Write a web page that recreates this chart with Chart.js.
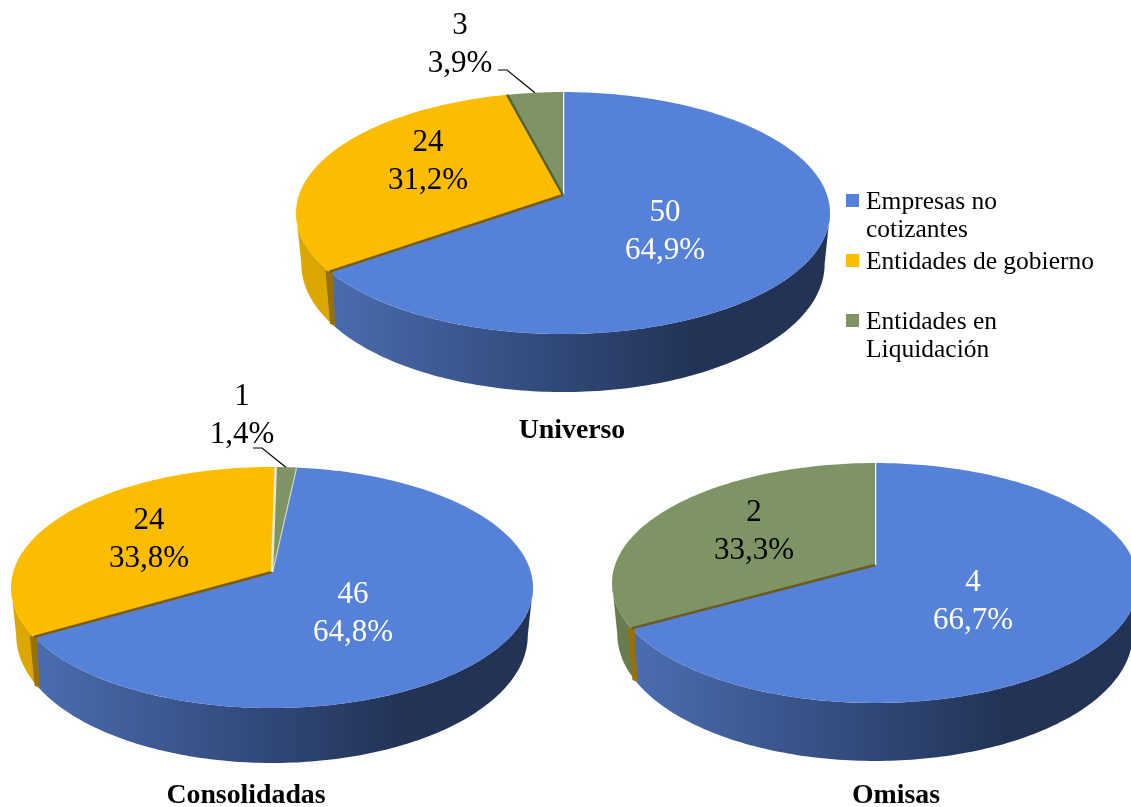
<!DOCTYPE html>
<html>
<head>
<meta charset="utf-8">
<script src="https://cdn.jsdelivr.net/npm/chart.js@4"></script>
<style>
    html, body { margin: 0; padding: 0; background: #fff; overflow: hidden; }
    #page { position: relative; width: 1131px; height: 807px; overflow: hidden; }
    canvas { position: absolute; left: 0; top: 0; }
</style>
</head>
<body>
<div id="page">
    <canvas id="universo" width="1131" height="807"></canvas>
    <canvas id="consolidadas" width="1131" height="807"></canvas>
    <canvas id="omisas" width="1131" height="807"></canvas>
</div>
<script>
const categorias = ['Empresas no cotizantes', 'Entidades de gobierno', 'Entidades en Liquidación'];
const categoriasOmisas = ['Empresas no cotizantes', 'Entidades en Liquidación'];
const leyendaLineas = [['Empresas no', 'cotizantes'], ['Entidades de gobierno'], ['Entidades en', 'Liquidación']];

const valoresUniverso = [50, 24, 3];
const valoresConsolidadas = [46, 24, 1];
const valoresOmisas = [4, 2];

const AZUL = '#5681d8', AMARILLO = '#fcbd00', VERDE = '#7f9464';
const AZUL_LADO = '#4a6cb0', AZUL_OSCURO = '#223356';
const AMARILLO_LADO = '#dca700', VERDE_LADO = '#687c50';
const CORTE = '#96700c';
const FUENTE = '"Liberation Serif", "Times New Roman", serif';

// elemento de arco con perspectiva (el pie 3D que Chart.js no trae)
class Arc3D extends Chart.ArcElement {
    static id = 'arc3d';
    static defaults = {
        ...Chart.ArcElement.defaults,
        tilt: 0.45, persp: 0.15, dropY: 50, stretchY: 1.058, shrinkX: 0.98,
        sideColor: '#000', sideDark: '#000', startEdge: 'transparent', cutColor: 'transparent'
    };

    top(t) {
        const o = this.options, u = Math.cos(t), v = Math.sin(t), w = 1 - o.persp * v;
        return { x: this.outerRadius * u / w, y: this.outerRadius * o.tilt * v / w };
    }

    bottom(t) {
        const o = this.options, p = this.top(t);
        return { x: p.x * o.shrinkX, y: p.y * o.stretchY + o.dropY };
    }

    draw(ctx) {
        const o = this.options;
        const a0 = this.startAngle, a1 = this.endAngle;
        const limite = Math.asin(o.persp);
        const desde = Math.max(a0, limite), hasta = Math.min(a1, Math.PI - limite);
        const paso = Math.PI / 180;

        ctx.save();
        ctx.translate(this.x, this.y);

        // pared lateral
        if (hasta > desde) {
            const grad = ctx.createLinearGradient(-235, 0, 130, 0);
            grad.addColorStop(0, o.sideColor);
            grad.addColorStop(1, o.sideDark);
            ctx.fillStyle = grad;
            ctx.beginPath();
            for (let t = desde; t < hasta; t += paso) {
                const p = this.top(t);
                ctx.lineTo(p.x, p.y);
            }
            let p = this.top(hasta);
            ctx.lineTo(p.x, p.y);
            for (let t = hasta; t > desde; t -= paso) {
                p = this.bottom(t);
                ctx.lineTo(p.x, p.y);
            }
            p = this.bottom(desde);
            ctx.lineTo(p.x, p.y);
            ctx.closePath();
            ctx.fill();
        }

        // cara de corte que asoma al lado de la porcion
        const pc = this.top(a0), qc = this.bottom(a0);
        if (o.cutColor !== 'transparent') {
            ctx.fillStyle = o.cutColor;
            ctx.beginPath();
            ctx.moveTo(pc.x + 3, pc.y);
            ctx.lineTo(qc.x + 1, qc.y);
            ctx.lineTo(qc.x - 4, qc.y - 2);
            ctx.lineTo(pc.x - 4, pc.y - 1);
            ctx.closePath();
            ctx.fill();
        }

        // cara superior
        ctx.fillStyle = o.backgroundColor;
        ctx.beginPath();
        ctx.moveTo(0, 0);
        for (let t = a0; t < a1; t += paso) {
            const p = this.top(t);
            ctx.lineTo(p.x, p.y);
        }
        const fin = this.top(a1);
        ctx.lineTo(fin.x, fin.y);
        ctx.closePath();
        ctx.fill();

        // filete entre porciones
        if (o.startEdge !== 'transparent') {
            ctx.strokeStyle = o.startEdge;
            ctx.lineWidth = 2.5;
            ctx.beginPath();
            ctx.moveTo(0, 0);
            ctx.lineTo(pc.x, pc.y);
            ctx.stroke();
        }
        ctx.restore();
    }
}

class Pie3D extends Chart.PieController {
    static id = 'pie3d';
    static defaults = { dataElementType: 'arc3d' };
}

Chart.register(Arc3D, Pie3D);

function formatoPct(v, total) {
    return (v / total * 100).toFixed(1).replace('.', ',') + '%';
}

function dibujaLineas(ctx, lineas, x, y, alto) {
    const y0 = y - (lineas.length - 1) * alto / 2;
    lineas.forEach((l, i) => ctx.fillText(l, x, y0 + i * alto));
}

// etiquetas de datos, lineas guia, titulo y leyenda
const textosPlugin = {
    id: 'textos',
    afterDatasetsDraw(chart, args, opts) {
        const ctx = chart.ctx;
        const meta = chart.getDatasetMeta(0);
        const valores = chart.data.datasets[0].data;
        const total = valores.reduce((a, b) => a + b, 0);
        ctx.save();
        ctx.textAlign = 'center';
        ctx.textBaseline = 'middle';

        meta.data.forEach((arc, i) => {
            const pos = opts.etiquetas[i];
            const x = arc.x + pos.dx, y = arc.y + pos.dy;
            if (pos.guia) {
                const medio = arc.top((arc.startAngle + arc.endAngle) / 2);
                ctx.strokeStyle = '#000';
                ctx.lineWidth = 1.2;
                ctx.beginPath();
                ctx.moveTo(arc.x + pos.guia[0], arc.y + pos.guia[1]);
                ctx.lineTo(arc.x + pos.guia[0] + 9, arc.y + pos.guia[1]);
                ctx.lineTo(arc.x + medio.x, arc.y + medio.y);
                ctx.stroke();
            }
            ctx.fillStyle = pos.color;
            ctx.font = '31px ' + FUENTE;
            dibujaLineas(ctx, [String(valores[i]), formatoPct(valores[i], total)], x, y, 37.5);
        });

        ctx.fillStyle = '#000';
        ctx.font = 'bold 27.8px ' + FUENTE;
        ctx.fillText(opts.titulo, opts.tituloX, opts.tituloY);

        if (opts.leyenda) {
            ctx.textAlign = 'left';
            ctx.font = '25.5px ' + FUENTE;
            const colores = chart.data.datasets[0].backgroundColor;
            leyendaLineas.forEach((lineas, i) => {
                const y0 = opts.leyenda.y[i];
                ctx.fillStyle = colores[i];
                ctx.fillRect(opts.leyenda.x, y0 - 7, 13, 13);
                ctx.fillStyle = '#000';
                lineas.forEach((l, j) => ctx.fillText(l, opts.leyenda.x + 20, y0 + 1 + j * 28));
            });
        }
        ctx.restore();
    }
};

function crearPie(id, cx, cy, cfg) {
    const W = 1131, H = 807;
    return new Chart(document.getElementById(id), {
        type: 'pie3d',
        data: {
            labels: cfg.labels,
            datasets: [{
                data: cfg.data,
                backgroundColor: cfg.colores,
                sideColor: cfg.lados,
                sideDark: cfg.oscuros,
                startEdge: cfg.filetes,
                cutColor: cfg.cortes,
                borderWidth: 0,
                radius: cfg.radio,
                rotation: cfg.rotacion,
                tilt: cfg.tilt,
                persp: cfg.persp,
                dropY: cfg.dropY,
                clip: false
            }]
        },
        options: {
            responsive: false,
            animation: false,
            events: [],
            layout: {
                padding: {
                    left: Math.max(0, 2 * cx - W),
                    right: Math.max(0, W - 2 * cx),
                    top: Math.max(0, 2 * cy - H),
                    bottom: Math.max(0, H - 2 * cy)
                }
            },
            plugins: {
                legend: { display: false },
                tooltip: { enabled: false },
                textos: cfg.textos
            }
        },
        plugins: [textosPlugin]
    });
}

crearPie('universo', 563, 195, {
    labels: categorias,
    data: valoresUniverso,
    colores: [AZUL, AMARILLO, VERDE],
    lados: [AZUL_LADO, AMARILLO_LADO, VERDE_LADO],
    oscuros: [AZUL_OSCURO, AMARILLO_LADO, VERDE_LADO],
    filetes: ['#ffffff', '#7a5c10', '#55603c'],
    cortes: ['transparent', CORTE, 'transparent'],
    radio: 264, rotacion: 0, tilt: 0.448, persp: 0.149, dropY: 50,
    textos: {
        etiquetas: [
            { dx: 102, dy: 37, color: '#fff' },
            { dx: -135, dy: -33, color: '#000' },
            { dx: -103, dy: -150, color: '#000', guia: [-65, -125] }
        ],
        titulo: 'Universo', tituloX: 572, tituloY: 431,
        leyenda: { x: 846, y: [201, 261, 321] }
    }
});

crearPie('consolidadas', 272, 572, {
    labels: categorias,
    data: valoresConsolidadas,
    colores: [AZUL, AMARILLO, VERDE],
    lados: [AZUL_LADO, AMARILLO_LADO, VERDE_LADO],
    oscuros: [AZUL_OSCURO, AMARILLO_LADO, VERDE_LADO],
    filetes: ['#cfd6c4', '#7a5c10', '#e8e8d8'],
    cortes: ['transparent', CORTE, 'transparent'],
    radio: 258.8, rotacion: 6, tilt: 0.458, persp: 0.129, dropY: 47,
    textos: {
        etiquetas: [
            { dx: 81, dy: 42, color: '#fff' },
            { dx: -123, dy: -32, color: '#000' },
            { dx: -30, dy: -156, color: '#000', guia: [-19, -124] }
        ],
        titulo: 'Consolidadas', tituloX: 246, tituloY: 796
    }
});

crearPie('omisas', 875, 565, {
    labels: categoriasOmisas,
    data: valoresOmisas,
    colores: [AZUL, VERDE],
    lados: [AZUL_LADO, VERDE_LADO],
    oscuros: [AZUL_OSCURO, VERDE_LADO],
    filetes: ['#ffffff', '#6b5a20'],
    cortes: ['transparent', CORTE],
    radio: 260, rotacion: 0, tilt: 0.451, persp: 0.15, dropY: 50,
    textos: {
        etiquetas: [
            { dx: 98, dy: 37, color: '#fff' },
            { dx: -121, dy: -33, color: '#000' }
        ],
        titulo: 'Omisas', tituloX: 896, tituloY: 796
    }
});
</script>
</body>
</html>
